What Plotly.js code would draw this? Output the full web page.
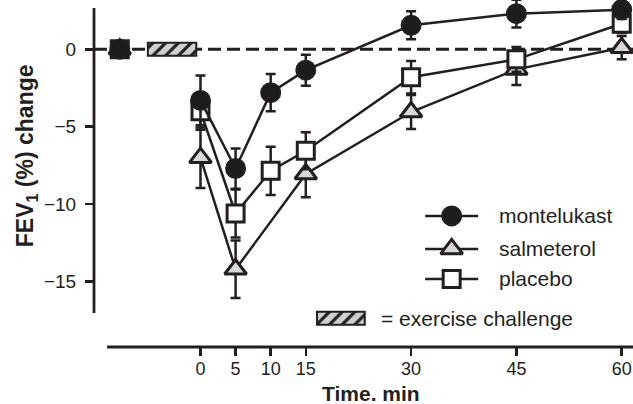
<!DOCTYPE html>
<html>
<head>
<meta charset="utf-8">
<script src="https://cdn.plot.ly/plotly-3.0.1.min.js"></script>
<style>html,body{margin:0;padding:0;background:#fff;}#chart{width:633px;height:404px;}</style>
</head>
<body>
<div id="chart"></div>
<script>
// ---- data ----
const times = [0, 5, 10, 15, 30, 45, 60];
const baselineTime = -11.5;
const baselineValue = 0;
const montelukast    = [-3.3, -7.7, -2.8, -1.35, 1.55, 2.3, 2.55];
const montelukastErr = [1.6, 1.3, 1.2, 1.0, 0.9, 0.9, 0.6];
const salmeterol     = [-7.0, -14.2, null, -8.05, -4.05, -1.3, 0.1];
const salmeterolErr  = [1.95, 1.85, null, 1.5, 1.1, 1.0, 0.75];
const placebo        = [-4.0, -10.6, -7.85, -6.55, -1.8, -0.65, 1.65];
const placeboErr     = [1.2, 1.55, 1.55, 1.2, 1.05, 0.8, 0.6];
const exerciseStart = -7.5;
const exerciseEnd = -0.6;
const seriesNames = ['montelukast', 'salmeterol', 'placebo'];
const xTickVals = [0, 5, 10, 15, 30, 45, 60];
const xTickText = ['0', '5', '10', '15', '30', '45', '60'];
const yTickVals = [0, -5, -10, -15];
const yTickText = ['0', '\u22125', '\u221210', '\u221215'];
const xTitle = 'Time. min';
const yTitle = 'FEV<sub>1</sub> (%) change';
const exerciseLabel = '= exercise challenge';

// ---- styling ----
const INK = '#231f20';
const FONT = 'Liberation Sans, Arial, Helvetica, sans-serif';
const styles = {
  montelukast: {symbol: 'circle', size: 19, fill: '#1c1c1c', lw: 2},
  salmeterol:  {symbol: 'triangle-up', size: 19, fill: '#d9d9d9', lw: 3},
  placebo:     {symbol: 'square', size: 17, fill: '#ffffff', lw: 3}
};
const seriesData = {
  montelukast: [montelukast, montelukastErr],
  salmeterol: [salmeterol, salmeterolErr],
  placebo: [placebo, placeboErr]
};
const drawOrder = ['salmeterol', 'placebo', 'montelukast'];
const hatch = {color: '#d0d0d0', line: {color: INK, width: 2},
  pattern: {shape: '/', fgcolor: INK, bgcolor: '#d0d0d0', size: 9, solidity: 0.35}};

const traces = [];
// exercise challenge bar (hatched)
traces.push({
  type: 'bar', orientation: 'h', y: [baselineValue], base: [exerciseStart],
  x: [exerciseEnd - exerciseStart], width: [0.84], marker: hatch,
  showlegend: false, hoverinfo: 'skip'
});
// legend key for exercise challenge
const keyX0 = 16.6, keyLen = 6.8, keyY = -17.37;
traces.push({
  type: 'bar', orientation: 'h', y: [keyY], base: [keyX0], x: [keyLen], width: [0.84],
  marker: hatch, showlegend: false, hoverinfo: 'skip'
});

// baseline markers
drawOrder.forEach(name => {
  const s = styles[name];
  traces.push({
    type: 'scatter', mode: 'markers', x: [baselineTime], y: [baselineValue],
    marker: {symbol: s.symbol, size: s.size, color: s.fill, line: {color: INK, width: s.lw}},
    showlegend: false, hoverinfo: 'skip'
  });
});

// series
drawOrder.forEach(name => {
  const s = styles[name];
  const [vals, errs] = seriesData[name];
  traces.push({
    type: 'scatter', mode: 'lines+markers', name: name, x: times, y: vals,
    connectgaps: true,
    line: {color: INK, width: 2.5},
    marker: {symbol: s.symbol, size: s.size, color: s.fill, line: {color: INK, width: s.lw}},
    error_y: {type: 'data', array: errs, visible: true, color: INK, thickness: 2.5, width: 5},
    showlegend: false
  });
});

// custom legend
const legX = [32.0, 35.78, 39.57];
const legY = {montelukast: -10.76, salmeterol: -12.89, placebo: -14.83};
const legTextX = 42.2;
seriesNames.forEach(name => {
  const s = styles[name];
  traces.push({type: 'scatter', mode: 'lines', x: [legX[0], legX[2]], y: [legY[name], legY[name]],
    line: {color: INK, width: 2.5}, showlegend: false, hoverinfo: 'skip'});
  traces.push({type: 'scatter', mode: 'markers', x: [legX[1]], y: [legY[name]],
    marker: {symbol: s.symbol, size: s.size, color: s.fill, line: {color: INK, width: s.lw}},
    showlegend: false, hoverinfo: 'skip'});
});

const annotations = [];
seriesNames.forEach(name => {
  annotations.push({x: legTextX, y: legY[name], xref: 'x', yref: 'y', text: name,
    showarrow: false, xanchor: 'left', yanchor: 'middle',
    font: {family: FONT, size: 21, color: INK}});
});
annotations.push({x: keyX0 + keyLen + 2.0, y: keyY, xref: 'x', yref: 'y', text: exerciseLabel,
  showarrow: false, xanchor: 'left', yanchor: 'middle', font: {family: FONT, size: 21, color: INK}});
annotations.push({x: 0.514, y: 0, xref: 'paper', yref: 'paper', yshift: -46, text: '<b>' + xTitle + '</b>',
  showarrow: false, xanchor: 'center', yanchor: 'middle', font: {family: FONT, size: 21, color: INK}});
annotations.push({x: -0.126, y: 0.55, xref: 'paper', yref: 'paper', text: '<b>' + yTitle + '</b>',
  textangle: -90, showarrow: false, xanchor: 'center', yanchor: 'middle',
  font: {family: FONT, size: 23, color: INK}});

const layout = {
  width: 633, height: 404,
  margin: {l: 94, r: 0, t: 0, b: 57, pad: 0},
  paper_bgcolor: '#fff', plot_bgcolor: '#fff',
  barmode: 'overlay',
  showlegend: false,
  font: {family: FONT, color: INK},
  xaxis: {range: [-15.17, 61.61], tickmode: 'array', tickvals: xTickVals, ticktext: xTickText,
    ticks: 'outside', ticklen: 8, tickwidth: 2.5, tickcolor: INK,
    showline: false, showgrid: false, zeroline: false, ticklabelstandoff: -3,
    tickfont: {family: FONT, size: 18, color: INK}, fixedrange: true},
  yaxis: {range: [-19.22, 3.18], tickmode: 'array', tickvals: yTickVals, ticktext: yTickText,
    ticks: 'outside', ticklen: 8, tickwidth: 2.5, tickcolor: INK,
    showline: false, showgrid: false, zeroline: false, ticklabelstandoff: 5,
    tickfont: {family: FONT, size: 19, color: INK}, fixedrange: true},
  shapes: [
    {type: 'line', xref: 'paper', x0: 0, x1: 1, yref: 'y', y0: 0, y1: 0, layer: 'below',
      line: {color: INK, width: 3, dash: '13px,6px'}},
    {type: 'line', xref: 'paper', x0: 0, x1: 0, yref: 'y', y0: -17.02, y1: 2.67,
      line: {color: INK, width: 2.8}},
    {type: 'line', xref: 'x', x0: -13.3, x1: 61.61, yref: 'paper', y0: 0, y1: 0,
      line: {color: INK, width: 3}}
  ],
  annotations: annotations
};

Plotly.newPlot('chart', traces, layout, {staticPlot: true, displayModeBar: false});
</script>
</body>
</html>
